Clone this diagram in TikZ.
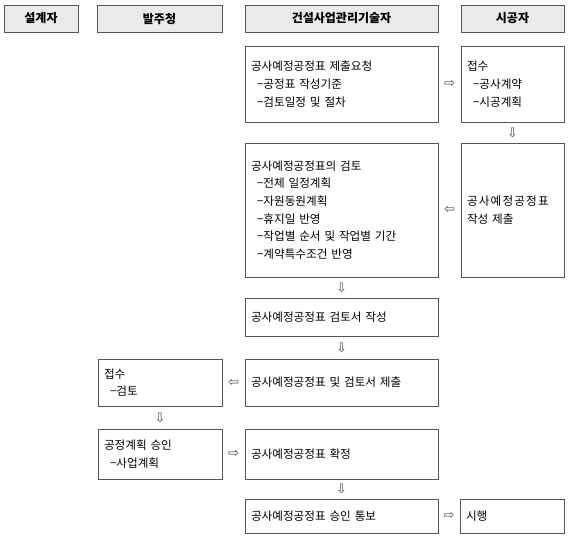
\documentclass[tikz,border=0pt]{standalone}
\usepackage{fontspec}
\setmainfont{Noto Sans CJK KR}[WordSpace=3]
\newfontfamily\arwfont{DejaVu Sans}
\definecolor{headfill}{RGB}{234,234,234}
\definecolor{boxline}{RGB}{85,85,85}
\newcommand{\subind}{\hspace*{6pt}}

\begin{document}
\begin{tikzpicture}[x=1pt, y=-1pt,
		head/.style={draw=boxline, fill=headfill, line width=0.8pt, minimum height=27pt, inner sep=0pt, font=\fontsize{12}{15}\selectfont\bfseries},
		box/.style={draw=boxline, line width=0.8pt, align=left, inner xsep=6pt, inner ysep=0pt, font=\fontsize{11.6}{17.7}\selectfont},
		arw/.style={text=black!70, inner sep=0pt, font=\arwfont\fontsize{13}{13}\selectfont}]
		\useasboundingbox (0,0) rectangle (572,538);
		
		\node[head, minimum width=74pt] (h1) at (41,18.5) {설계자};
		\node[head, minimum width=125pt] (h2) at (159.5,18.5) {발주청};
		\node[head, minimum width=193pt] (h3) at (341.5,18.5) {건설사업관리기술자};
		\node[head, minimum width=103pt] (h4) at (512.5,18.5) {시공자};
		
		\node[box, text width=181pt, minimum height=76pt] (b1) at (341.5,84) {공사예정공정표 제출요청\\\subind−공정표 작성기준\\\subind−검토일정 및 절차};
		\node[box, text width=91pt, minimum height=76pt] (c1) at (512.5,84) {접수\\\subind−공사계약\\\subind−시공계획};
		\node[box, text width=181pt, minimum height=134pt] (b2) at (341.5,210) {공사예정공정표의 검토\\\subind−전체 일정계획\\\subind−자원동원계획\\\subind−휴지일 반영\\\subind−작업별 순서 및 작업별 기간\\\subind−계약특수조건 반영};
		\node[box, text width=91pt, minimum height=134pt] (c2) at (512.5,210) {{\addfontfeature{LetterSpace=10}공사예정공정표}\\작성 제출};
		\node[box, text width=181pt, minimum height=38pt] (b3) at (341.5,317) {공사예정공정표 검토서 작성};
		\node[box, text width=181pt, minimum height=47pt] (b4) at (341.5,382.5) {공사예정공정표 및 검토서 제출};
		\node[box, text width=112pt, minimum height=47pt] (o4) at (160,382.5) {접수\\\subind−검토};
		\node[box, text width=112pt, minimum height=50pt] (o5) at (160,454) {공정계획 승인\\\subind−사업계획};
		\node[box, text width=181pt, minimum height=50pt] (b5) at (341.5,454) {공사예정공정표 확정};
		\node[box, text width=181pt, minimum height=34pt] (b6) at (341.5,516) {공사예정공정표 승인 통보};
		\node[box, text width=92pt, minimum height=34pt] (c6) at (512,516) {시행};
		
		\path (b1) -- node[arw] {⇨} (c1);
		\path (c1) -- node[arw] {⇩} (c2);
		\path (c2) -- node[arw] {⇦} (b2);
		\path (b2) -- node[arw] {⇩} (b3);
		\path (b3) -- node[arw] {⇩} (b4);
		\path (b4) -- node[arw] {⇦} (o4);
		\path (o4) -- node[arw] {⇩} (o5);
		\path (o5) -- node[arw] {⇨} (b5);
		\path (b5) -- node[arw] {⇩} (b6);
		\path (b6) -- node[arw] {⇨} (c6);
\end{tikzpicture}
\end{document}
